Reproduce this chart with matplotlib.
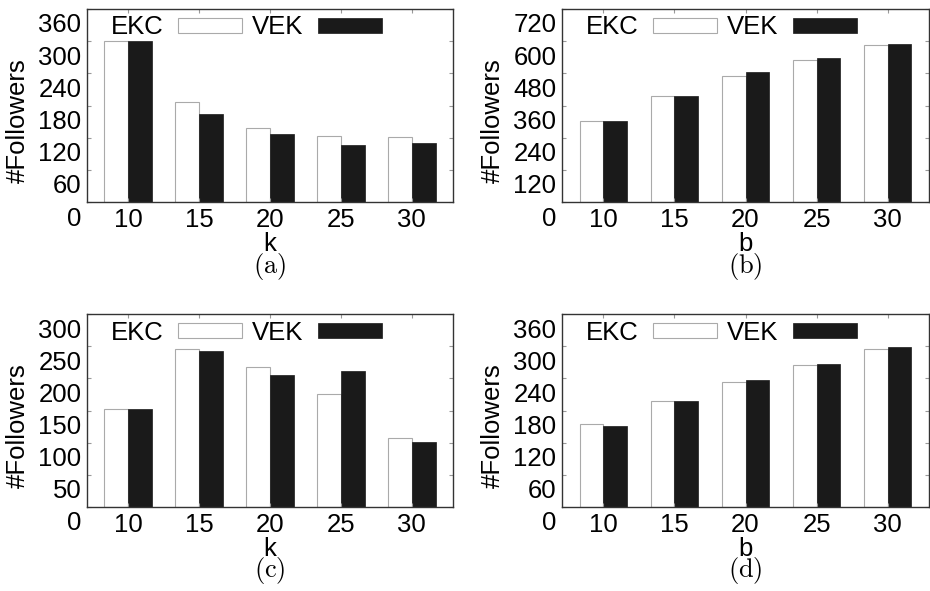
import numpy as np
import matplotlib
matplotlib.use("Agg")
import matplotlib.pyplot as plt
from matplotlib.transforms import ScaledTranslation

plt.rcParams["font.family"] = ["Liberation Sans", "DejaVu Sans"]
plt.rcParams["mathtext.fontset"] = "cm"

x_labels = ["10", "15", "20", "25", "30"]

# (a) varying k
ekc_a = [301, 187, 138, 123, 121]
vek_a = [301, 164, 126, 107, 110]
# (b) varying b
ekc_b = [302, 395, 469, 529, 587]
vek_b = [303, 396, 485, 537, 591]
# (c) varying k
ekc_c = [153, 245, 217, 176, 107]
vek_c = [152, 242, 205, 211, 101]
# (d) varying b
ekc_d = [154, 197, 234, 264, 294]
vek_d = [151, 197, 237, 267, 298]

panels = [
    ("a", "k", ekc_a, vek_a, 360, [0, 60, 120, 180, 240, 300, 360]),
    ("b", "b", ekc_b, vek_b, 720, [0, 120, 240, 360, 480, 600, 720]),
    ("c", "k", ekc_c, vek_c, 300, [0, 50, 100, 150, 200, 250, 300]),
    ("d", "b", ekc_d, vek_d, 360, [0, 60, 120, 180, 240, 300, 360]),
]

# axes rectangles in figure fraction (left, bottom, width, height)
rects = [
    (87 / 930, 1 - 202 / 591, 366 / 930, 193 / 591),
    (562 / 930, 1 - 202 / 591, 367 / 930, 193 / 591),
    (87 / 930, 1 - 507 / 591, 366 / 930, 193 / 591),
    (562 / 930, 1 - 507 / 591, 367 / 930, 193 / 591),
]

fig = plt.figure(figsize=(9.3, 5.91), dpi=100)
fs = 18.5
w = 1 / 3
x = np.arange(len(x_labels))

for (tag, xlab, ekc, vek, ymax, yt), rect in zip(panels, rects):
    ax = fig.add_axes(rect)
    ax.bar(x - w / 2, ekc, width=w, color="white", edgecolor="#aaaaaa",
           linewidth=0.8, label="EKC")
    ax.bar(x + w / 2, vek, width=w, color="#1a1a1a", edgecolor="#1a1a1a",
           linewidth=0.5, label="VEK")
    ax.set_xlim(-0.58, 4.58)
    ax.set_ylim(0, ymax)
    ax.set_xticks(x)
    ax.set_xticklabels(x_labels, fontsize=fs)
    ax.set_yticks(yt)
    ax.set_yticklabels([str(v) for v in yt], fontsize=fs)
    ax.tick_params(direction="in", length=3, width=0.8, color="#999999",
                   top=True, right=True, pad=4)
    for s in ax.spines.values():
        s.set_color("#333333")
        s.set_linewidth(1.0)

    ax.set_xlabel(xlab, fontsize=fs, va="center")
    ax.xaxis.set_label_coords(0.5, -42 / 193)
    ax.set_ylabel("#Followers", fontsize=fs, va="center")
    ax.yaxis.set_label_coords(-69 / 366, 0.42)

    ax.legend(loc="center left", bbox_to_anchor=(24 / 366, 1 - 18.5 / 193),
              ncol=2, markerfirst=False, frameon=False, fontsize=fs,
              handlelength=2.5, handleheight=0.49, handletextpad=0.55,
              columnspacing=0.39, borderpad=0, borderaxespad=0)

    ax.text(0.5, -64 / 193, r"$\mathrm{(" + tag + ")}$", transform=ax.transAxes,
            ha="center", va="center", fontsize=19)

    # gnuplot puts the y labels a bit below their ticks
    off = ScaledTranslation(0, -14 / 100, fig.dpi_scale_trans)
    for lbl in ax.get_yticklabels():
        lbl.set_transform(lbl.get_transform() + off)

fig.savefig("out.png", dpi=100)
